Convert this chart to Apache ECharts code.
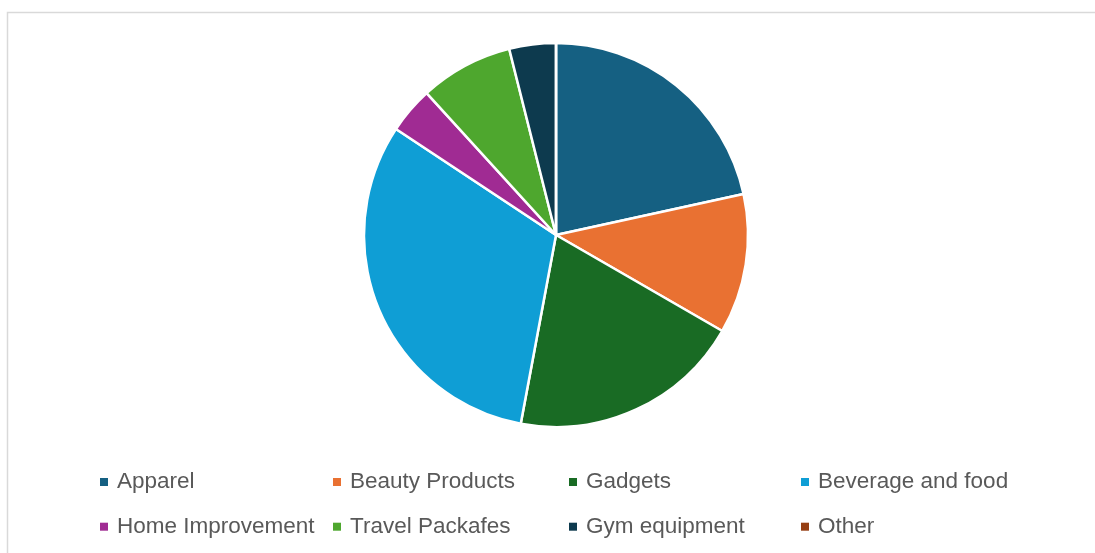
<!DOCTYPE html>
<html>
<head>
<meta charset="utf-8">
<script src="https://cdn.jsdelivr.net/npm/echarts@6/dist/echarts.min.js"></script>
<style>
  html, body { margin: 0; padding: 0; background: #ffffff; }
  #chart { width: 1095px; height: 553px; }
</style>
</head>
<body>
<div id="chart"></div>
<script>
// Category names, slice values and slice colours
const categories = ['Apparel', 'Beauty Products', 'Gadgets', 'Beverage and food',
                    'Home Improvement', 'Travel Packafes', 'Gym equipment', 'Other'];
const values = [11, 6, 10, 16, 2, 4, 2, 0];
const colors = ['#156082', '#E97132', '#196B24', '#0F9ED5',
                '#A02B93', '#4EA72E', '#0D3A4E', '#963E13'];

// Legend grid: 4 columns x 2 rows
const legendCols = [100, 333, 569, 801];
const legendRows = [470, 514.7];

const chart = echarts.init(document.getElementById('chart'), null, { renderer: 'canvas' });

const legends = categories.map((name, i) => ({
  data: [name],
  left: legendCols[i % 4],
  top: legendRows[Math.floor(i / 4)],
  orient: 'horizontal',
  selectedMode: false,
  icon: 'rect',
  itemWidth: 8,
  itemHeight: 8,
  padding: 0,
  itemStyle: { borderWidth: 0 },
  textStyle: {
    fontFamily: 'Liberation Sans, Arial, sans-serif',
    fontSize: 22.5,
    lineHeight: 24,
    color: '#595959',
    padding: [0, 0, 0, 4]
  }
}));

chart.setOption({
  animation: false,
  color: colors,
  graphic: [{
    type: 'rect',
    shape: { x: 7.5, y: 12.5, width: 1200, height: 700 },
    style: { fill: 'none', stroke: '#d9d9d9', lineWidth: 1.5 },
    silent: true,
    z: -1
  }],
  legend: legends,
  series: [{
    type: 'pie',
    center: [556, 235],
    radius: 192,
    startAngle: 90,
    clockwise: true,
    label: { show: false },
    labelLine: { show: false },
    itemStyle: { borderColor: '#ffffff', borderWidth: 2.5 },
    emphasis: { disabled: true },
    data: categories.map((name, i) => ({ name, value: values[i] }))
  }]
});
</script>
</body>
</html>
